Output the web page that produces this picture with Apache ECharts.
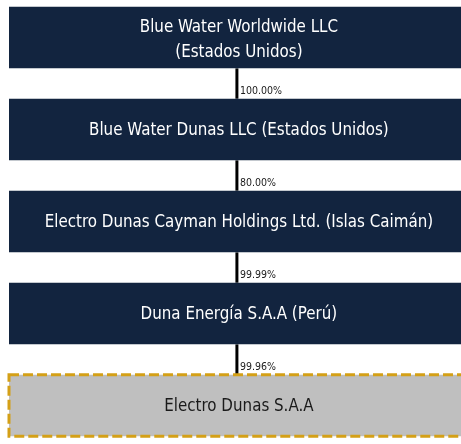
<!DOCTYPE html>
<html>
<head>
<meta charset="utf-8">
<script src="https://cdn.jsdelivr.net/npm/echarts@6/dist/echarts.min.js"></script>
<style>
  html, body { margin: 0; padding: 0; background: #ffffff; }
  #chart { width: 461px; height: 444px; }
</style>
</head>
<body>
<div id="chart"></div>
<script>
const entities = [
  "Blue Water Worldwide LLC\n(Estados Unidos)",
  "Blue Water Dunas LLC (Estados Unidos)",
  "Electro Dunas Cayman Holdings Ltd. (Islas Caimán)",
  "Duna Energía S.A.A (Perú)",
  "Electro Dunas S.A.A"
];
const levels = [0, 1, 2, 3, 4];
const ownership = ["100.00%", "80.00%", "99.99%", "99.96%"];
// last entity is the subject company (highlighted)
const targetIndex = 4;

const FONT = "'Liberation Sans Narrow', 'DejaVu Sans Condensed', 'Liberation Sans', sans-serif";
const BOX_H = 0.67;

const chart = echarts.init(document.getElementById("chart"), null, { renderer: "canvas" });

function renderBox(params, api) {
  const level = api.value(0);
  const name = entities[params.dataIndex];
  const center = api.coord([0.5, level]);
  const size = api.size([1, BOX_H]);
  const x = center[0] - size[0] / 2;
  const y = center[1] - size[1] / 2;
  const isTarget = params.dataIndex === targetIndex;

  const rect = {
    type: "rect",
    shape: { x: x, y: y, width: size[0], height: size[1] },
    style: isTarget
      ? { fill: "#bfbfbf", stroke: "#d4a017", lineWidth: 3, lineDash: [10, 4] }
      : { fill: "#12243f" }
  };
  const text = {
    type: "text",
    style: {
      x: center[0],
      y: center[1] + (name.indexOf("\n") >= 0 ? 3 : 1),
      text: name,
      fill: isTarget ? "#1a1a1a" : "#ffffff",
      font: "16.8px " + FONT,
      align: "center",
      verticalAlign: "middle",
      lineHeight: 25
    }
  };
  return { type: "group", children: [rect, text] };
}

function renderLink(params, api) {
  const from = api.value(0);
  const top = api.coord([0.5, from]);
  const bottom = api.coord([0.5, from + 1]);
  const half = api.size([1, BOX_H])[1] / 2;
  const lx = top[0] - 2;
  const y1 = top[1] + half;
  const y2 = bottom[1] - half;
  return {
    type: "group",
    children: [
      {
        type: "line",
        shape: { x1: lx, y1: y1, x2: lx, y2: y2 },
        style: { stroke: "#000000", lineWidth: 3 }
      },
      {
        type: "text",
        style: {
          x: lx + 3,
          y: y2 - 7,
          text: ownership[params.dataIndex],
          fill: "#1a1a1a",
          font: "10.5px " + FONT,
          align: "left",
          verticalAlign: "middle"
        }
      }
    ]
  };
}

chart.setOption({
  animation: false,
  grid: { left: 9, right: 0, top: 0, bottom: 0 },
  xAxis: { type: "value", min: 0, max: 0.983, show: false },
  yAxis: { type: "value", inverse: true, min: -0.408, max: 4.418, show: false },
  series: [
    {
      type: "custom",
      name: "links",
      renderItem: renderLink,
      clip: false,
      data: ownership.map((p, i) => [levels[i]]),
      z: 1
    },
    {
      type: "custom",
      name: "entities",
      renderItem: renderBox,
      clip: false,
      data: levels.map((l) => [l]),
      z: 2
    }
  ]
});
</script>
</body>
</html>
